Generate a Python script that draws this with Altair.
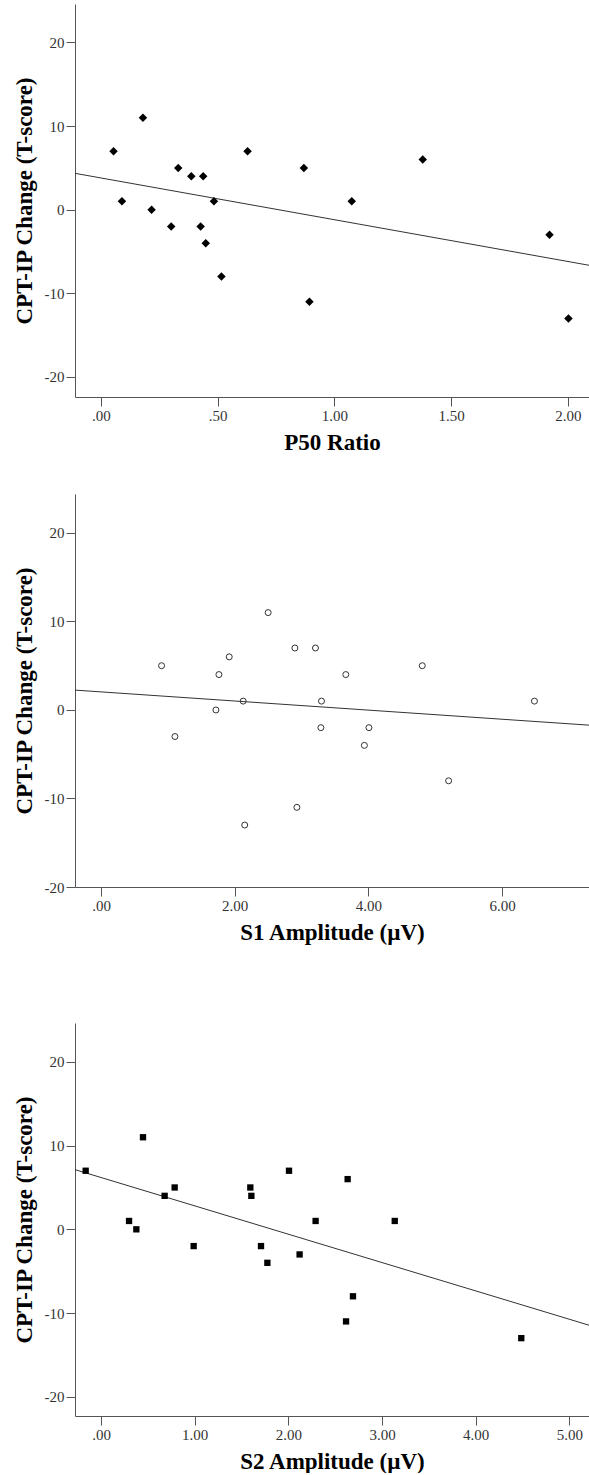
import altair as alt
import pandas as pd

# Panel 1: P50 Ratio
p50_ratio = [0.054, 0.18, 0.09, 0.217, 0.331, 0.301, 0.387, 0.438, 0.427, 0.449,
             0.484, 0.516, 0.628, 0.869, 0.893, 1.074, 1.378, 1.921, 2.002]
p50_change = [7, 11, 1, 0, 5, -2, 4, 4, -2, -4, 1, -8, 7, 5, -11, 1, 6, -3, -13]

# Panel 2: S1 Amplitude
s1_amp = [0.906, 1.106, 1.719, 1.764, 1.918, 2.127, 2.50, 2.90, 3.208, 3.298,
          3.289, 3.662, 2.93, 2.15, 4.008, 3.94, 4.806, 5.20, 6.484]
s1_change = [5, -3, 0, 4, 6, 1, 11, 7, 7, 1, -2, 4, -11, -13, -2, -4, 5, -8, 1]

# Panel 3: S2 Amplitude
s2_amp = [-0.164, 0.448, 0.299, 0.377, 0.679, 0.786, 0.989, 1.594, 1.605, 1.708,
          1.776, 2.007, 2.12, 2.291, 2.633, 2.69, 2.616, 3.136, 4.487]
s2_change = [7, 11, 1, 0, 4, 5, -2, 5, 4, -2, -4, 7, -3, 1, 6, -8, -11, 1, -13]

y_title = "CPT-IP Change (T-score)"
y_ticks = [-20, -10, 0, 10, 20]

W = 514
H = 393

x_label_expr = ("datum.value < 1 ? substring(format(datum.value, '.2f'), 1) "
                ": format(datum.value, '.2f')")


def panel(xs, ys, x_title, x_domain, x_ticks, y_domain, shape, filled, size):
    df = pd.DataFrame({"x": xs, "y": ys})
    base = alt.Chart(df)
    xenc = alt.X("x:Q", title=x_title,
                 scale=alt.Scale(domain=x_domain, nice=False, zero=False),
                 axis=alt.Axis(values=x_ticks, labelExpr=x_label_expr))
    yenc = alt.Y("y:Q", title=y_title,
                 scale=alt.Scale(domain=y_domain, nice=False, zero=False),
                 axis=alt.Axis(values=y_ticks, labelExpr="'' + datum.value"))
    if filled:
        pts = base.mark_point(shape=shape, filled=True, size=size, color="black",
                              opacity=1).encode(x=xenc, y=yenc)
    else:
        pts = base.mark_point(shape=shape, filled=False, size=size, color="#333333",
                              strokeWidth=1, opacity=1).encode(x=xenc, y=yenc)
    line = base.transform_regression("x", "y", extent=x_domain).mark_line(
        color="#333333", strokeWidth=1, clip=True).encode(
        x=alt.X("x:Q"), y=alt.Y("y:Q"))
    return alt.layer(line, pts).properties(width=W, height=H)


p1 = panel(p50_ratio, p50_change, "P50 Ratio", [-0.111, 2.09],
           [0, 0.5, 1.0, 1.5, 2.0], [-22.4, 24.6], "diamond", True, 72)
p2 = panel(s1_amp, s1_change, "S1 Amplitude (\u00b5V)", [-0.389, 7.30],
           [0, 2, 4, 6], [-20, 24.4], "circle", False, 36)
p3 = panel(s2_amp, s2_change, "S2 Amplitude (\u00b5V)", [-0.278, 5.21],
           [0, 1, 2, 3, 4, 5], [-22.3, 24.65], "square", True, 40)

top = alt.vconcat(p1, p2, spacing=40)
chart = alt.vconcat(top, p3, spacing=79).properties(
    padding={"left": 13, "top": 4, "right": 0, "bottom": 0},
    background="white",
).configure_view(strokeOpacity=0).configure_axis(
    grid=False,
    domainColor="#555555",
    tickColor="#555555",
    domainWidth=1,
    tickWidth=1,
    tickSize=9,
    labelFont="Liberation Serif",
    labelFontSize=15,
    labelColor="#333333",
    labelPadding=2,
    titleFont="Liberation Serif",
    titleFontSize=23,
    titleFontWeight="bold",
    titleColor="black",
).configure_axisX(titlePadding=8).configure_axisY(titlePadding=8)

chart.save("out.html", embed_options={"renderer": "svg", "actions": False})
